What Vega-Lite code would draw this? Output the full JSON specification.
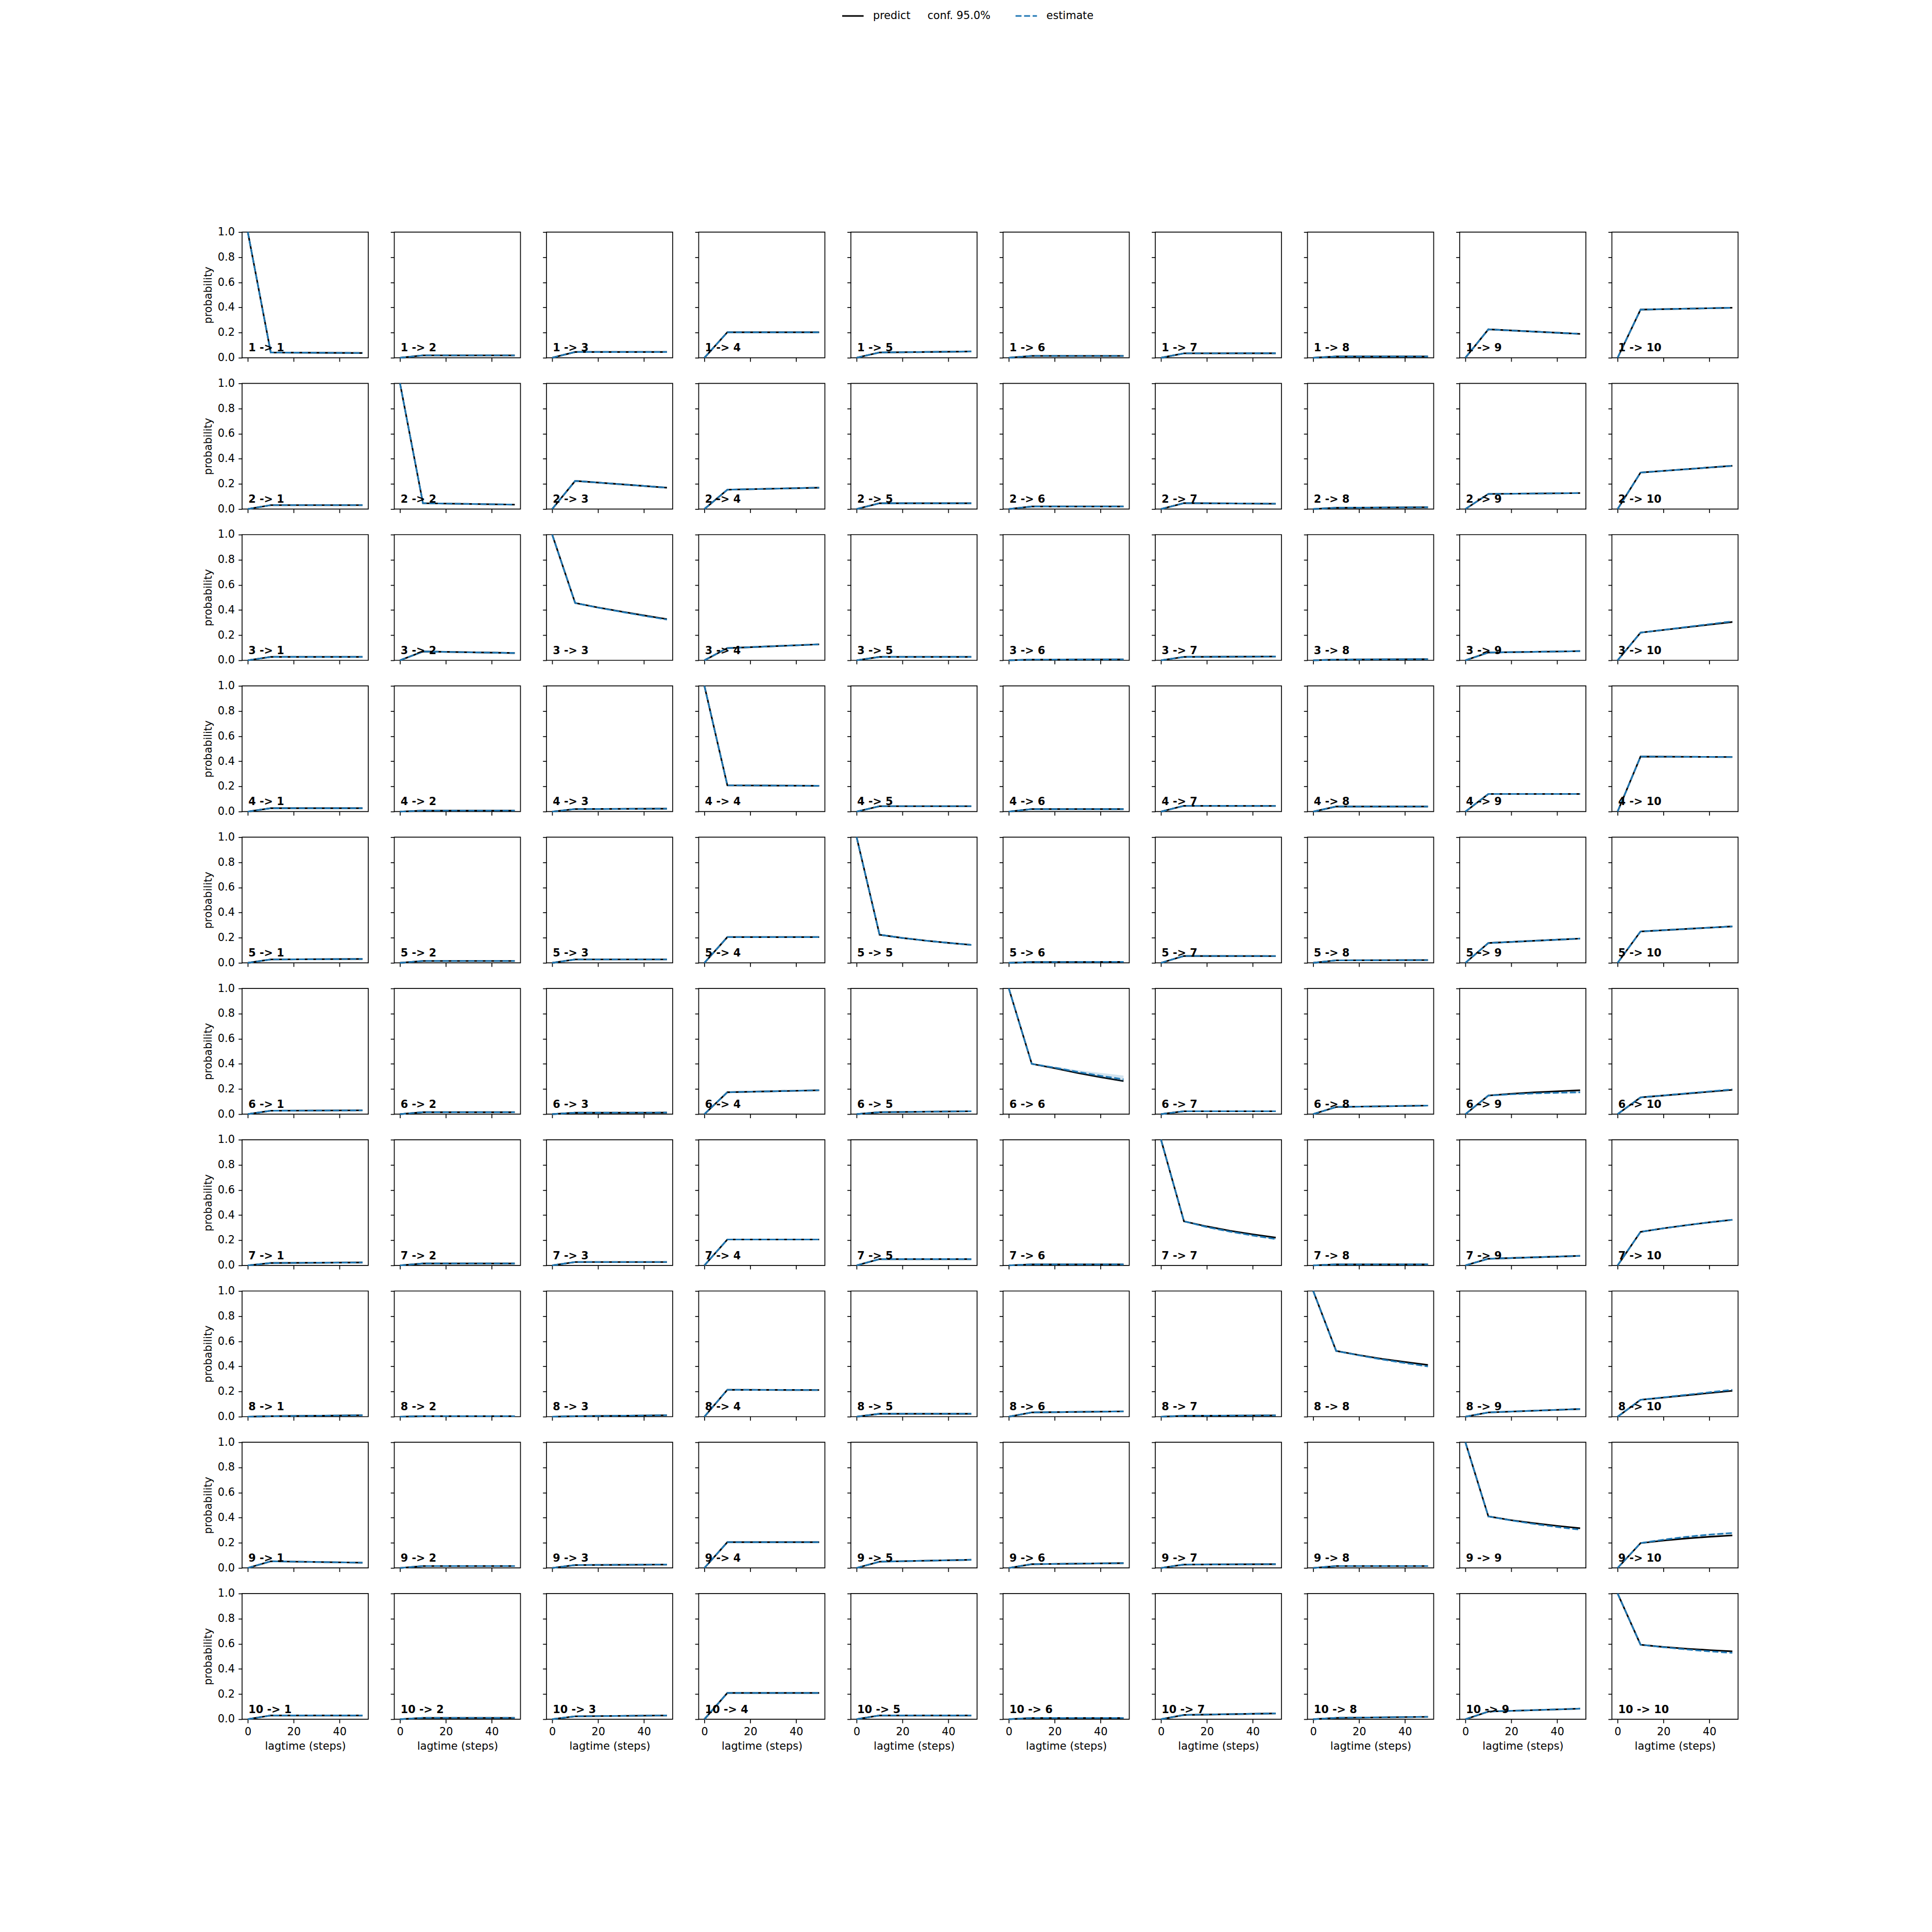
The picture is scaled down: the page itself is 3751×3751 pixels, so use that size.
{
"$schema":"https://vega.github.io/schema/vega-lite/v6.json",
"background":"white",
"padding":{"left":392,"top":7.6,"right":20,"bottom":20},
"datasets":{"ck":[
{"i":1,"j":1,"t":0,"p":1,"e":1,"lab":"1 -> 1"},{"i":1,"j":1,"t":10,"p":0.042,"e":0.042},{"i":1,"j":1,"t":50,"p":0.038,"e":0.038},
{"i":1,"j":2,"t":0,"p":0,"e":0,"lab":"1 -> 2"},{"i":1,"j":2,"t":10,"p":0.019,"e":0.019},{"i":1,"j":2,"t":50,"p":0.019,"e":0.019},
{"i":1,"j":3,"t":0,"p":0,"e":0,"lab":"1 -> 3"},{"i":1,"j":3,"t":10,"p":0.046,"e":0.046},{"i":1,"j":3,"t":50,"p":0.046,"e":0.046},
{"i":1,"j":4,"t":0,"p":0,"e":0,"lab":"1 -> 4"},{"i":1,"j":4,"t":10,"p":0.203,"e":0.203},{"i":1,"j":4,"t":50,"p":0.203,"e":0.203},
{"i":1,"j":5,"t":0,"p":0,"e":0,"lab":"1 -> 5"},{"i":1,"j":5,"t":10,"p":0.042,"e":0.042},{"i":1,"j":5,"t":50,"p":0.05,"e":0.05},
{"i":1,"j":6,"t":0,"p":0,"e":0,"lab":"1 -> 6"},{"i":1,"j":6,"t":10,"p":0.015,"e":0.015},{"i":1,"j":6,"t":50,"p":0.015,"e":0.015},
{"i":1,"j":7,"t":0,"p":0,"e":0,"lab":"1 -> 7"},{"i":1,"j":7,"t":10,"p":0.035,"e":0.035},{"i":1,"j":7,"t":50,"p":0.036,"e":0.036},
{"i":1,"j":8,"t":0,"p":0,"e":0,"lab":"1 -> 8"},{"i":1,"j":8,"t":10,"p":0.01,"e":0.01},{"i":1,"j":8,"t":50,"p":0.01,"e":0.01},
{"i":1,"j":9,"t":0,"p":0,"e":0,"lab":"1 -> 9"},{"i":1,"j":9,"t":10,"p":0.226,"e":0.226},{"i":1,"j":9,"t":50,"p":0.19,"e":0.19},
{"i":1,"j":10,"t":0,"p":0,"e":0,"lab":"1 -> 10"},{"i":1,"j":10,"t":10,"p":0.383,"e":0.383},{"i":1,"j":10,"t":50,"p":0.398,"e":0.398},
{"i":2,"j":1,"t":0,"p":0,"e":0,"lab":"2 -> 1"},{"i":2,"j":1,"t":10,"p":0.031,"e":0.031},{"i":2,"j":1,"t":50,"p":0.031,"e":0.031},
{"i":2,"j":2,"t":0,"p":1,"e":1,"lab":"2 -> 2"},{"i":2,"j":2,"t":10,"p":0.046,"e":0.046},{"i":2,"j":2,"t":50,"p":0.035,"e":0.035},
{"i":2,"j":3,"t":0,"p":0,"e":0,"lab":"2 -> 3"},{"i":2,"j":3,"t":10,"p":0.224,"e":0.224},{"i":2,"j":3,"t":50,"p":0.17,"e":0.17},
{"i":2,"j":4,"t":0,"p":0,"e":0,"lab":"2 -> 4"},{"i":2,"j":4,"t":10,"p":0.154,"e":0.154},{"i":2,"j":4,"t":50,"p":0.17,"e":0.17},
{"i":2,"j":5,"t":0,"p":0,"e":0,"lab":"2 -> 5"},{"i":2,"j":5,"t":10,"p":0.046,"e":0.046},{"i":2,"j":5,"t":50,"p":0.046,"e":0.046},
{"i":2,"j":6,"t":0,"p":0,"e":0,"lab":"2 -> 6"},{"i":2,"j":6,"t":10,"p":0.02,"e":0.02},{"i":2,"j":6,"t":50,"p":0.02,"e":0.02},
{"i":2,"j":7,"t":0,"p":0,"e":0,"lab":"2 -> 7"},{"i":2,"j":7,"t":10,"p":0.047,"e":0.047},{"i":2,"j":7,"t":50,"p":0.042,"e":0.042},
{"i":2,"j":8,"t":0,"p":0,"e":0,"lab":"2 -> 8"},{"i":2,"j":8,"t":10,"p":0.01,"e":0.01},{"i":2,"j":8,"t":50,"p":0.014,"e":0.014},
{"i":2,"j":9,"t":0,"p":0,"e":0,"lab":"2 -> 9"},{"i":2,"j":9,"t":10,"p":0.12,"e":0.12},{"i":2,"j":9,"t":50,"p":0.127,"e":0.127},
{"i":2,"j":10,"t":0,"p":0,"e":0,"lab":"2 -> 10"},{"i":2,"j":10,"t":10,"p":0.29,"e":0.29},{"i":2,"j":10,"t":50,"p":0.344,"e":0.344},
{"i":3,"j":1,"t":0,"p":0,"e":0,"lab":"3 -> 1"},{"i":3,"j":1,"t":10,"p":0.027,"e":0.027},{"i":3,"j":1,"t":50,"p":0.027,"e":0.027},
{"i":3,"j":2,"t":0,"p":0,"e":0,"lab":"3 -> 2"},{"i":3,"j":2,"t":10,"p":0.07,"e":0.07},{"i":3,"j":2,"t":50,"p":0.058,"e":0.058},
{"i":3,"j":3,"t":0,"p":1,"e":1,"lab":"3 -> 3"},{"i":3,"j":3,"t":10,"p":0.456,"e":0.456},{"i":3,"j":3,"t":20,"p":0.42,"e":0.419},{"i":3,"j":3,"t":30,"p":0.388,"e":0.386},{"i":3,"j":3,"t":40,"p":0.357,"e":0.354},{"i":3,"j":3,"t":50,"p":0.328,"e":0.324},
{"i":3,"j":4,"t":0,"p":0,"e":0,"lab":"3 -> 4"},{"i":3,"j":4,"t":10,"p":0.097,"e":0.097},{"i":3,"j":4,"t":50,"p":0.127,"e":0.127},
{"i":3,"j":5,"t":0,"p":0,"e":0,"lab":"3 -> 5"},{"i":3,"j":5,"t":10,"p":0.027,"e":0.027},{"i":3,"j":5,"t":50,"p":0.027,"e":0.027},
{"i":3,"j":6,"t":0,"p":0,"e":0,"lab":"3 -> 6"},{"i":3,"j":6,"t":10,"p":0.006,"e":0.006},{"i":3,"j":6,"t":50,"p":0.007,"e":0.007},
{"i":3,"j":7,"t":0,"p":0,"e":0,"lab":"3 -> 7"},{"i":3,"j":7,"t":10,"p":0.027,"e":0.027},{"i":3,"j":7,"t":50,"p":0.03,"e":0.03},
{"i":3,"j":8,"t":0,"p":0,"e":0,"lab":"3 -> 8"},{"i":3,"j":8,"t":10,"p":0.006,"e":0.006},{"i":3,"j":8,"t":50,"p":0.009,"e":0.009},
{"i":3,"j":9,"t":0,"p":0,"e":0,"lab":"3 -> 9"},{"i":3,"j":9,"t":10,"p":0.062,"e":0.062},{"i":3,"j":9,"t":50,"p":0.073,"e":0.073},
{"i":3,"j":10,"t":0,"p":0,"e":0,"lab":"3 -> 10"},{"i":3,"j":10,"t":10,"p":0.22,"e":0.22},{"i":3,"j":10,"t":50,"p":0.305,"e":0.31},
{"i":4,"j":1,"t":0,"p":0,"e":0,"lab":"4 -> 1"},{"i":4,"j":1,"t":10,"p":0.027,"e":0.027},{"i":4,"j":1,"t":50,"p":0.027,"e":0.027},
{"i":4,"j":2,"t":0,"p":0,"e":0,"lab":"4 -> 2"},{"i":4,"j":2,"t":10,"p":0.008,"e":0.008},{"i":4,"j":2,"t":50,"p":0.008,"e":0.008},
{"i":4,"j":3,"t":0,"p":0,"e":0,"lab":"4 -> 3"},{"i":4,"j":3,"t":10,"p":0.02,"e":0.02},{"i":4,"j":3,"t":50,"p":0.023,"e":0.023},
{"i":4,"j":4,"t":0,"p":1,"e":1,"lab":"4 -> 4"},{"i":4,"j":4,"t":10,"p":0.209,"e":0.209},{"i":4,"j":4,"t":50,"p":0.205,"e":0.205},
{"i":4,"j":5,"t":0,"p":0,"e":0,"lab":"4 -> 5"},{"i":4,"j":5,"t":10,"p":0.043,"e":0.043},{"i":4,"j":5,"t":50,"p":0.043,"e":0.043},
{"i":4,"j":6,"t":0,"p":0,"e":0,"lab":"4 -> 6"},{"i":4,"j":6,"t":10,"p":0.02,"e":0.02},{"i":4,"j":6,"t":50,"p":0.02,"e":0.02},
{"i":4,"j":7,"t":0,"p":0,"e":0,"lab":"4 -> 7"},{"i":4,"j":7,"t":10,"p":0.046,"e":0.046},{"i":4,"j":7,"t":50,"p":0.045,"e":0.045},
{"i":4,"j":8,"t":0,"p":0,"e":0,"lab":"4 -> 8"},{"i":4,"j":8,"t":10,"p":0.04,"e":0.04},{"i":4,"j":8,"t":50,"p":0.04,"e":0.04},
{"i":4,"j":9,"t":0,"p":0,"e":0,"lab":"4 -> 9"},{"i":4,"j":9,"t":10,"p":0.14,"e":0.14},{"i":4,"j":9,"t":50,"p":0.14,"e":0.14},
{"i":4,"j":10,"t":0,"p":0,"e":0,"lab":"4 -> 10"},{"i":4,"j":10,"t":10,"p":0.438,"e":0.438},{"i":4,"j":10,"t":50,"p":0.434,"e":0.434},
{"i":5,"j":1,"t":0,"p":0,"e":0,"lab":"5 -> 1"},{"i":5,"j":1,"t":10,"p":0.027,"e":0.027},{"i":5,"j":1,"t":50,"p":0.031,"e":0.031},
{"i":5,"j":2,"t":0,"p":0,"e":0,"lab":"5 -> 2"},{"i":5,"j":2,"t":10,"p":0.015,"e":0.015},{"i":5,"j":2,"t":50,"p":0.015,"e":0.015},
{"i":5,"j":3,"t":0,"p":0,"e":0,"lab":"5 -> 3"},{"i":5,"j":3,"t":10,"p":0.027,"e":0.027},{"i":5,"j":3,"t":50,"p":0.027,"e":0.027},
{"i":5,"j":4,"t":0,"p":0,"e":0,"lab":"5 -> 4"},{"i":5,"j":4,"t":10,"p":0.205,"e":0.205},{"i":5,"j":4,"t":50,"p":0.205,"e":0.205},
{"i":5,"j":5,"t":0,"p":1,"e":1,"lab":"5 -> 5"},{"i":5,"j":5,"t":10,"p":0.224,"e":0.224},{"i":5,"j":5,"t":20,"p":0.198,"e":0.198},{"i":5,"j":5,"t":30,"p":0.177,"e":0.177},{"i":5,"j":5,"t":40,"p":0.159,"e":0.159},{"i":5,"j":5,"t":50,"p":0.143,"e":0.143},
{"i":5,"j":6,"t":0,"p":0,"e":0,"lab":"5 -> 6"},{"i":5,"j":6,"t":10,"p":0.006,"e":0.006},{"i":5,"j":6,"t":50,"p":0.008,"e":0.008},
{"i":5,"j":7,"t":0,"p":0,"e":0,"lab":"5 -> 7"},{"i":5,"j":7,"t":10,"p":0.055,"e":0.055},{"i":5,"j":7,"t":50,"p":0.054,"e":0.054},
{"i":5,"j":8,"t":0,"p":0,"e":0,"lab":"5 -> 8"},{"i":5,"j":8,"t":10,"p":0.02,"e":0.02},{"i":5,"j":8,"t":50,"p":0.022,"e":0.022},
{"i":5,"j":9,"t":0,"p":0,"e":0,"lab":"5 -> 9"},{"i":5,"j":9,"t":10,"p":0.158,"e":0.158},{"i":5,"j":9,"t":50,"p":0.193,"e":0.193},
{"i":5,"j":10,"t":0,"p":0,"e":0,"lab":"5 -> 10"},{"i":5,"j":10,"t":10,"p":0.25,"e":0.25},{"i":5,"j":10,"t":50,"p":0.29,"e":0.29},
{"i":6,"j":1,"t":0,"p":0,"e":0,"lab":"6 -> 1"},{"i":6,"j":1,"t":10,"p":0.027,"e":0.027},{"i":6,"j":1,"t":50,"p":0.03,"e":0.03},
{"i":6,"j":2,"t":0,"p":0,"e":0,"lab":"6 -> 2"},{"i":6,"j":2,"t":10,"p":0.015,"e":0.015},{"i":6,"j":2,"t":50,"p":0.015,"e":0.015},
{"i":6,"j":3,"t":0,"p":0,"e":0,"lab":"6 -> 3"},{"i":6,"j":3,"t":10,"p":0.011,"e":0.011},{"i":6,"j":3,"t":50,"p":0.012,"e":0.012},
{"i":6,"j":4,"t":0,"p":0,"e":0,"lab":"6 -> 4"},{"i":6,"j":4,"t":10,"p":0.174,"e":0.174},{"i":6,"j":4,"t":50,"p":0.19,"e":0.19},
{"i":6,"j":5,"t":0,"p":0,"e":0,"lab":"6 -> 5"},{"i":6,"j":5,"t":10,"p":0.015,"e":0.015},{"i":6,"j":5,"t":50,"p":0.023,"e":0.023},
{"i":6,"j":6,"t":0,"p":1,"e":1,"lo":1,"hi":1,"lab":"6 -> 6"},{"i":6,"j":6,"t":10,"p":0.4,"e":0.4,"lo":0.398,"hi":0.403},{"i":6,"j":6,"t":20,"p":0.365,"e":0.37,"lo":0.362,"hi":0.378},{"i":6,"j":6,"t":30,"p":0.327,"e":0.336,"lo":0.325,"hi":0.35},{"i":6,"j":6,"t":40,"p":0.294,"e":0.305,"lo":0.29,"hi":0.328},{"i":6,"j":6,"t":50,"p":0.263,"e":0.277,"lo":0.258,"hi":0.307},
{"i":6,"j":7,"t":0,"p":0,"e":0,"lab":"6 -> 7"},{"i":6,"j":7,"t":10,"p":0.023,"e":0.023},{"i":6,"j":7,"t":50,"p":0.023,"e":0.023},
{"i":6,"j":8,"t":0,"p":0,"e":0,"lab":"6 -> 8"},{"i":6,"j":8,"t":10,"p":0.057,"e":0.057},{"i":6,"j":8,"t":50,"p":0.068,"e":0.068},
{"i":6,"j":9,"t":0,"p":0,"e":0,"lo":0,"hi":0,"lab":"6 -> 9"},{"i":6,"j":9,"t":10,"p":0.148,"e":0.148,"lo":0.147,"hi":0.15},{"i":6,"j":9,"t":20,"p":0.162,"e":0.158,"lo":0.154,"hi":0.163},{"i":6,"j":9,"t":30,"p":0.173,"e":0.165,"lo":0.16,"hi":0.171},{"i":6,"j":9,"t":40,"p":0.182,"e":0.17,"lo":0.164,"hi":0.177},{"i":6,"j":9,"t":50,"p":0.19,"e":0.174,"lo":0.167,"hi":0.182},
{"i":6,"j":10,"t":0,"p":0,"e":0,"lab":"6 -> 10"},{"i":6,"j":10,"t":10,"p":0.133,"e":0.133},{"i":6,"j":10,"t":50,"p":0.193,"e":0.197},
{"i":7,"j":1,"t":0,"p":0,"e":0,"lab":"7 -> 1"},{"i":7,"j":1,"t":10,"p":0.019,"e":0.019},{"i":7,"j":1,"t":50,"p":0.023,"e":0.023},
{"i":7,"j":2,"t":0,"p":0,"e":0,"lab":"7 -> 2"},{"i":7,"j":2,"t":10,"p":0.015,"e":0.015},{"i":7,"j":2,"t":50,"p":0.015,"e":0.015},
{"i":7,"j":3,"t":0,"p":0,"e":0,"lab":"7 -> 3"},{"i":7,"j":3,"t":10,"p":0.027,"e":0.027},{"i":7,"j":3,"t":50,"p":0.027,"e":0.027},
{"i":7,"j":4,"t":0,"p":0,"e":0,"lab":"7 -> 4"},{"i":7,"j":4,"t":10,"p":0.206,"e":0.206},{"i":7,"j":4,"t":50,"p":0.206,"e":0.206},
{"i":7,"j":5,"t":0,"p":0,"e":0,"lab":"7 -> 5"},{"i":7,"j":5,"t":10,"p":0.05,"e":0.05},{"i":7,"j":5,"t":50,"p":0.05,"e":0.05},
{"i":7,"j":6,"t":0,"p":0,"e":0,"lab":"7 -> 6"},{"i":7,"j":6,"t":10,"p":0.008,"e":0.008},{"i":7,"j":6,"t":50,"p":0.008,"e":0.008},
{"i":7,"j":7,"t":0,"p":1,"e":1,"lo":1,"hi":1,"lab":"7 -> 7"},{"i":7,"j":7,"t":10,"p":0.351,"e":0.351,"lo":0.35,"hi":0.352},{"i":7,"j":7,"t":20,"p":0.31,"e":0.305,"lo":0.3,"hi":0.31},{"i":7,"j":7,"t":30,"p":0.276,"e":0.269,"lo":0.262,"hi":0.276},{"i":7,"j":7,"t":40,"p":0.247,"e":0.238,"lo":0.23,"hi":0.246},{"i":7,"j":7,"t":50,"p":0.221,"e":0.21,"lo":0.203,"hi":0.218},
{"i":7,"j":8,"t":0,"p":0,"e":0,"lab":"7 -> 8"},{"i":7,"j":8,"t":10,"p":0.008,"e":0.008},{"i":7,"j":8,"t":50,"p":0.008,"e":0.008},
{"i":7,"j":9,"t":0,"p":0,"e":0,"lab":"7 -> 9"},{"i":7,"j":9,"t":10,"p":0.053,"e":0.053},{"i":7,"j":9,"t":50,"p":0.076,"e":0.076},
{"i":7,"j":10,"t":0,"p":0,"e":0,"lab":"7 -> 10"},{"i":7,"j":10,"t":10,"p":0.267,"e":0.267},{"i":7,"j":10,"t":20,"p":0.295,"e":0.295},{"i":7,"j":10,"t":30,"p":0.32,"e":0.32},{"i":7,"j":10,"t":40,"p":0.343,"e":0.343},{"i":7,"j":10,"t":50,"p":0.363,"e":0.363},
{"i":8,"j":1,"t":0,"p":0,"e":0,"lab":"8 -> 1"},{"i":8,"j":1,"t":10,"p":0.004,"e":0.004},{"i":8,"j":1,"t":50,"p":0.011,"e":0.011},
{"i":8,"j":2,"t":0,"p":0,"e":0,"lab":"8 -> 2"},{"i":8,"j":2,"t":10,"p":0.004,"e":0.004},{"i":8,"j":2,"t":50,"p":0.004,"e":0.004},
{"i":8,"j":3,"t":0,"p":0,"e":0,"lab":"8 -> 3"},{"i":8,"j":3,"t":10,"p":0.004,"e":0.004},{"i":8,"j":3,"t":50,"p":0.011,"e":0.011},
{"i":8,"j":4,"t":0,"p":0,"e":0,"lab":"8 -> 4"},{"i":8,"j":4,"t":10,"p":0.214,"e":0.214},{"i":8,"j":4,"t":50,"p":0.212,"e":0.212},
{"i":8,"j":5,"t":0,"p":0,"e":0,"lab":"8 -> 5"},{"i":8,"j":5,"t":10,"p":0.023,"e":0.023},{"i":8,"j":5,"t":50,"p":0.023,"e":0.023},
{"i":8,"j":6,"t":0,"p":0,"e":0,"lab":"8 -> 6"},{"i":8,"j":6,"t":10,"p":0.034,"e":0.034},{"i":8,"j":6,"t":50,"p":0.042,"e":0.042},
{"i":8,"j":7,"t":0,"p":0,"e":0,"lab":"8 -> 7"},{"i":8,"j":7,"t":10,"p":0.007,"e":0.007},{"i":8,"j":7,"t":50,"p":0.01,"e":0.01},
{"i":8,"j":8,"t":0,"p":1,"e":1,"lo":1,"hi":1,"lab":"8 -> 8"},{"i":8,"j":8,"t":10,"p":0.523,"e":0.523,"lo":0.522,"hi":0.524},{"i":8,"j":8,"t":20,"p":0.49,"e":0.488,"lo":0.483,"hi":0.493},{"i":8,"j":8,"t":30,"p":0.46,"e":0.455,"lo":0.449,"hi":0.462},{"i":8,"j":8,"t":40,"p":0.435,"e":0.427,"lo":0.42,"hi":0.434},{"i":8,"j":8,"t":50,"p":0.412,"e":0.4,"lo":0.393,"hi":0.408},
{"i":8,"j":9,"t":0,"p":0,"e":0,"lab":"8 -> 9"},{"i":8,"j":9,"t":10,"p":0.034,"e":0.034},{"i":8,"j":9,"t":50,"p":0.061,"e":0.061},
{"i":8,"j":10,"t":0,"p":0,"e":0,"lab":"8 -> 10"},{"i":8,"j":10,"t":10,"p":0.134,"e":0.134},{"i":8,"j":10,"t":50,"p":0.206,"e":0.214},
{"i":9,"j":1,"t":0,"p":0,"e":0,"lab":"9 -> 1"},{"i":9,"j":1,"t":10,"p":0.053,"e":0.053},{"i":9,"j":1,"t":50,"p":0.042,"e":0.042},
{"i":9,"j":2,"t":0,"p":0,"e":0,"lab":"9 -> 2"},{"i":9,"j":2,"t":10,"p":0.015,"e":0.015},{"i":9,"j":2,"t":50,"p":0.015,"e":0.015},
{"i":9,"j":3,"t":0,"p":0,"e":0,"lab":"9 -> 3"},{"i":9,"j":3,"t":10,"p":0.023,"e":0.023},{"i":9,"j":3,"t":50,"p":0.027,"e":0.027},
{"i":9,"j":4,"t":0,"p":0,"e":0,"lab":"9 -> 4"},{"i":9,"j":4,"t":10,"p":0.205,"e":0.205},{"i":9,"j":4,"t":50,"p":0.205,"e":0.205},
{"i":9,"j":5,"t":0,"p":0,"e":0,"lab":"9 -> 5"},{"i":9,"j":5,"t":10,"p":0.05,"e":0.05},{"i":9,"j":5,"t":50,"p":0.065,"e":0.065},
{"i":9,"j":6,"t":0,"p":0,"e":0,"lab":"9 -> 6"},{"i":9,"j":6,"t":10,"p":0.03,"e":0.03},{"i":9,"j":6,"t":50,"p":0.038,"e":0.038},
{"i":9,"j":7,"t":0,"p":0,"e":0,"lab":"9 -> 7"},{"i":9,"j":7,"t":10,"p":0.027,"e":0.027},{"i":9,"j":7,"t":50,"p":0.03,"e":0.03},
{"i":9,"j":8,"t":0,"p":0,"e":0,"lab":"9 -> 8"},{"i":9,"j":8,"t":10,"p":0.015,"e":0.015},{"i":9,"j":8,"t":50,"p":0.015,"e":0.015},
{"i":9,"j":9,"t":0,"p":1,"e":1,"lab":"9 -> 9"},{"i":9,"j":9,"t":10,"p":0.41,"e":0.41},{"i":9,"j":9,"t":20,"p":0.38,"e":0.378},{"i":9,"j":9,"t":30,"p":0.356,"e":0.35},{"i":9,"j":9,"t":40,"p":0.335,"e":0.326},{"i":9,"j":9,"t":50,"p":0.316,"e":0.304},
{"i":9,"j":10,"t":0,"p":0,"e":0,"lo":0,"hi":0,"lab":"9 -> 10"},{"i":9,"j":10,"t":10,"p":0.198,"e":0.198,"lo":0.197,"hi":0.2},{"i":9,"j":10,"t":20,"p":0.218,"e":0.225,"lo":0.22,"hi":0.23},{"i":9,"j":10,"t":30,"p":0.235,"e":0.248,"lo":0.242,"hi":0.254},{"i":9,"j":10,"t":40,"p":0.248,"e":0.265,"lo":0.258,"hi":0.272},{"i":9,"j":10,"t":50,"p":0.259,"e":0.278,"lo":0.27,"hi":0.286},
{"i":10,"j":1,"t":0,"p":0,"e":0,"lab":"10 -> 1"},{"i":10,"j":1,"t":10,"p":0.03,"e":0.03},{"i":10,"j":1,"t":50,"p":0.03,"e":0.03},
{"i":10,"j":2,"t":0,"p":0,"e":0,"lab":"10 -> 2"},{"i":10,"j":2,"t":10,"p":0.011,"e":0.011},{"i":10,"j":2,"t":50,"p":0.011,"e":0.011},
{"i":10,"j":3,"t":0,"p":0,"e":0,"lab":"10 -> 3"},{"i":10,"j":3,"t":10,"p":0.023,"e":0.023},{"i":10,"j":3,"t":50,"p":0.03,"e":0.03},
{"i":10,"j":4,"t":0,"p":0,"e":0,"lab":"10 -> 4"},{"i":10,"j":4,"t":10,"p":0.209,"e":0.209},{"i":10,"j":4,"t":50,"p":0.209,"e":0.209},
{"i":10,"j":5,"t":0,"p":0,"e":0,"lab":"10 -> 5"},{"i":10,"j":5,"t":10,"p":0.03,"e":0.03},{"i":10,"j":5,"t":50,"p":0.03,"e":0.03},
{"i":10,"j":6,"t":0,"p":0,"e":0,"lab":"10 -> 6"},{"i":10,"j":6,"t":10,"p":0.01,"e":0.01},{"i":10,"j":6,"t":50,"p":0.01,"e":0.01},
{"i":10,"j":7,"t":0,"p":0,"e":0,"lab":"10 -> 7"},{"i":10,"j":7,"t":10,"p":0.034,"e":0.034},{"i":10,"j":7,"t":50,"p":0.046,"e":0.046},
{"i":10,"j":8,"t":0,"p":0,"e":0,"lab":"10 -> 8"},{"i":10,"j":8,"t":10,"p":0.011,"e":0.011},{"i":10,"j":8,"t":50,"p":0.019,"e":0.019},
{"i":10,"j":9,"t":0,"p":0,"e":0,"lab":"10 -> 9"},{"i":10,"j":9,"t":10,"p":0.061,"e":0.061},{"i":10,"j":9,"t":50,"p":0.084,"e":0.084},
{"i":10,"j":10,"t":0,"p":1,"e":1,"lab":"10 -> 10"},{"i":10,"j":10,"t":10,"p":0.593,"e":0.593},{"i":10,"j":10,"t":20,"p":0.575,"e":0.573},{"i":10,"j":10,"t":30,"p":0.561,"e":0.555},{"i":10,"j":10,"t":40,"p":0.55,"e":0.54},{"i":10,"j":10,"t":50,"p":0.54,"e":0.528}
]},
"data":{"name":"ck"},
"columns":2,
"spacing":{"row":49.7,"column":50.5},
"bounds":"flush",
"resolve":{"scale":{"color":"shared"},"legend":{"color":"shared"}},
"concat":[
{"transform":[{"filter":"datum.i==1&&datum.j==1"}],"width":245,"height":244,"encoding":{"x":{"field":"t","type":"quantitative","scale":{"domain":[-2.5,52.5],"nice":false},"axis":{"labels":false,"title":null}}},"layer":[
{"mark":{"type":"line","strokeWidth":3.125},"encoding":{"y":{"field":"p","type":"quantitative","scale":{"domain":[0,1]},"axis":{"format":".1f","title":"probability"}},"color":{"datum":"predict\u00a0\u00a0\u00a0\u00a0\u00a0conf. 95.0%","scale":{"domain":["predict\u00a0\u00a0\u00a0\u00a0\u00a0conf. 95.0%","estimate"],"range":["black","#1f77b4"]},"legend":{"orient":"none","legendX":1163.4,"legendY":-442.4,"direction":"horizontal","title":null,"symbolType":"stroke","symbolSize":1731,"symbolStrokeWidth":3.125,"labelFontSize":20.8,"labelColor":"black","labelLimit":0,"labelOffset":16.6,"columnPadding":41.6,"padding":0,"encode":{"symbols":{"update":{"strokeDash":{"signal":"datum.value === 'estimate' ? [11.6, 5] : [1, 0]"}}}}}}}},
{"mark":{"type":"line","strokeWidth":3.125,"strokeDash":[11.6,5]},"encoding":{"y":{"field":"e","type":"quantitative"},"color":{"datum":"estimate"}}},
{"mark":{"type":"area","color":"#1f77b4","opacity":0.2},"encoding":{"y":{"field":"lo","type":"quantitative"},"y2":{"field":"hi"}}},
{"transform":[{"filter":"datum.t==0"}],"mark":{"type":"text","align":"left","baseline":"alphabetic","fontWeight":"bold","fontSize":20.8},"encoding":{"x":{"datum":0.25},"y":{"datum":0.05},"text":{"field":"lab"}}}]},
{"transform":[{"filter":"datum.i==1&&datum.j>1"}],"facet":{"column":{"field":"j","type":"ordinal","title":null,"header":{"labels":false}}},"spacing":50.5,"bounds":"flush","resolve":{"axis":{"y":"independent"}},"spec":{"width":245,"height":244,"encoding":{"x":{"field":"t","type":"quantitative","scale":{"domain":[-2.5,52.5],"nice":false},"axis":{"labels":false,"title":null}}},"layer":[
{"mark":{"type":"line","strokeWidth":3.125},"encoding":{"y":{"field":"p","type":"quantitative","scale":{"domain":[0,1]},"axis":{"labels":false,"title":null}},"color":{"datum":"predict\u00a0\u00a0\u00a0\u00a0\u00a0conf. 95.0%"}}},
{"mark":{"type":"line","strokeWidth":3.125,"strokeDash":[11.6,5]},"encoding":{"y":{"field":"e","type":"quantitative"},"color":{"datum":"estimate"}}},
{"mark":{"type":"area","color":"#1f77b4","opacity":0.2},"encoding":{"y":{"field":"lo","type":"quantitative"},"y2":{"field":"hi"}}},
{"transform":[{"filter":"datum.t==0"}],"mark":{"type":"text","align":"left","baseline":"alphabetic","fontWeight":"bold","fontSize":20.8},"encoding":{"x":{"datum":0.25},"y":{"datum":0.05},"text":{"field":"lab"}}}]}},
{"transform":[{"filter":"datum.i==2&&datum.j==1"}],"width":245,"height":244,"encoding":{"x":{"field":"t","type":"quantitative","scale":{"domain":[-2.5,52.5],"nice":false},"axis":{"labels":false,"title":null}}},"layer":[
{"mark":{"type":"line","strokeWidth":3.125},"encoding":{"y":{"field":"p","type":"quantitative","scale":{"domain":[0,1]},"axis":{"format":".1f","title":"probability"}},"color":{"datum":"predict\u00a0\u00a0\u00a0\u00a0\u00a0conf. 95.0%"}}},
{"mark":{"type":"line","strokeWidth":3.125,"strokeDash":[11.6,5]},"encoding":{"y":{"field":"e","type":"quantitative"},"color":{"datum":"estimate"}}},
{"mark":{"type":"area","color":"#1f77b4","opacity":0.2},"encoding":{"y":{"field":"lo","type":"quantitative"},"y2":{"field":"hi"}}},
{"transform":[{"filter":"datum.t==0"}],"mark":{"type":"text","align":"left","baseline":"alphabetic","fontWeight":"bold","fontSize":20.8},"encoding":{"x":{"datum":0.25},"y":{"datum":0.05},"text":{"field":"lab"}}}]},
{"transform":[{"filter":"datum.i==2&&datum.j>1"}],"facet":{"column":{"field":"j","type":"ordinal","title":null,"header":{"labels":false}}},"spacing":50.5,"bounds":"flush","resolve":{"axis":{"y":"independent"}},"spec":{"width":245,"height":244,"encoding":{"x":{"field":"t","type":"quantitative","scale":{"domain":[-2.5,52.5],"nice":false},"axis":{"labels":false,"title":null}}},"layer":[
{"mark":{"type":"line","strokeWidth":3.125},"encoding":{"y":{"field":"p","type":"quantitative","scale":{"domain":[0,1]},"axis":{"labels":false,"title":null}},"color":{"datum":"predict\u00a0\u00a0\u00a0\u00a0\u00a0conf. 95.0%"}}},
{"mark":{"type":"line","strokeWidth":3.125,"strokeDash":[11.6,5]},"encoding":{"y":{"field":"e","type":"quantitative"},"color":{"datum":"estimate"}}},
{"mark":{"type":"area","color":"#1f77b4","opacity":0.2},"encoding":{"y":{"field":"lo","type":"quantitative"},"y2":{"field":"hi"}}},
{"transform":[{"filter":"datum.t==0"}],"mark":{"type":"text","align":"left","baseline":"alphabetic","fontWeight":"bold","fontSize":20.8},"encoding":{"x":{"datum":0.25},"y":{"datum":0.05},"text":{"field":"lab"}}}]}},
{"transform":[{"filter":"datum.i==3&&datum.j==1"}],"width":245,"height":244,"encoding":{"x":{"field":"t","type":"quantitative","scale":{"domain":[-2.5,52.5],"nice":false},"axis":{"labels":false,"title":null}}},"layer":[
{"mark":{"type":"line","strokeWidth":3.125},"encoding":{"y":{"field":"p","type":"quantitative","scale":{"domain":[0,1]},"axis":{"format":".1f","title":"probability"}},"color":{"datum":"predict\u00a0\u00a0\u00a0\u00a0\u00a0conf. 95.0%"}}},
{"mark":{"type":"line","strokeWidth":3.125,"strokeDash":[11.6,5]},"encoding":{"y":{"field":"e","type":"quantitative"},"color":{"datum":"estimate"}}},
{"mark":{"type":"area","color":"#1f77b4","opacity":0.2},"encoding":{"y":{"field":"lo","type":"quantitative"},"y2":{"field":"hi"}}},
{"transform":[{"filter":"datum.t==0"}],"mark":{"type":"text","align":"left","baseline":"alphabetic","fontWeight":"bold","fontSize":20.8},"encoding":{"x":{"datum":0.25},"y":{"datum":0.05},"text":{"field":"lab"}}}]},
{"transform":[{"filter":"datum.i==3&&datum.j>1"}],"facet":{"column":{"field":"j","type":"ordinal","title":null,"header":{"labels":false}}},"spacing":50.5,"bounds":"flush","resolve":{"axis":{"y":"independent"}},"spec":{"width":245,"height":244,"encoding":{"x":{"field":"t","type":"quantitative","scale":{"domain":[-2.5,52.5],"nice":false},"axis":{"labels":false,"title":null}}},"layer":[
{"mark":{"type":"line","strokeWidth":3.125},"encoding":{"y":{"field":"p","type":"quantitative","scale":{"domain":[0,1]},"axis":{"labels":false,"title":null}},"color":{"datum":"predict\u00a0\u00a0\u00a0\u00a0\u00a0conf. 95.0%"}}},
{"mark":{"type":"line","strokeWidth":3.125,"strokeDash":[11.6,5]},"encoding":{"y":{"field":"e","type":"quantitative"},"color":{"datum":"estimate"}}},
{"mark":{"type":"area","color":"#1f77b4","opacity":0.2},"encoding":{"y":{"field":"lo","type":"quantitative"},"y2":{"field":"hi"}}},
{"transform":[{"filter":"datum.t==0"}],"mark":{"type":"text","align":"left","baseline":"alphabetic","fontWeight":"bold","fontSize":20.8},"encoding":{"x":{"datum":0.25},"y":{"datum":0.05},"text":{"field":"lab"}}}]}},
{"transform":[{"filter":"datum.i==4&&datum.j==1"}],"width":245,"height":244,"encoding":{"x":{"field":"t","type":"quantitative","scale":{"domain":[-2.5,52.5],"nice":false},"axis":{"labels":false,"title":null}}},"layer":[
{"mark":{"type":"line","strokeWidth":3.125},"encoding":{"y":{"field":"p","type":"quantitative","scale":{"domain":[0,1]},"axis":{"format":".1f","title":"probability"}},"color":{"datum":"predict\u00a0\u00a0\u00a0\u00a0\u00a0conf. 95.0%"}}},
{"mark":{"type":"line","strokeWidth":3.125,"strokeDash":[11.6,5]},"encoding":{"y":{"field":"e","type":"quantitative"},"color":{"datum":"estimate"}}},
{"mark":{"type":"area","color":"#1f77b4","opacity":0.2},"encoding":{"y":{"field":"lo","type":"quantitative"},"y2":{"field":"hi"}}},
{"transform":[{"filter":"datum.t==0"}],"mark":{"type":"text","align":"left","baseline":"alphabetic","fontWeight":"bold","fontSize":20.8},"encoding":{"x":{"datum":0.25},"y":{"datum":0.05},"text":{"field":"lab"}}}]},
{"transform":[{"filter":"datum.i==4&&datum.j>1"}],"facet":{"column":{"field":"j","type":"ordinal","title":null,"header":{"labels":false}}},"spacing":50.5,"bounds":"flush","resolve":{"axis":{"y":"independent"}},"spec":{"width":245,"height":244,"encoding":{"x":{"field":"t","type":"quantitative","scale":{"domain":[-2.5,52.5],"nice":false},"axis":{"labels":false,"title":null}}},"layer":[
{"mark":{"type":"line","strokeWidth":3.125},"encoding":{"y":{"field":"p","type":"quantitative","scale":{"domain":[0,1]},"axis":{"labels":false,"title":null}},"color":{"datum":"predict\u00a0\u00a0\u00a0\u00a0\u00a0conf. 95.0%"}}},
{"mark":{"type":"line","strokeWidth":3.125,"strokeDash":[11.6,5]},"encoding":{"y":{"field":"e","type":"quantitative"},"color":{"datum":"estimate"}}},
{"mark":{"type":"area","color":"#1f77b4","opacity":0.2},"encoding":{"y":{"field":"lo","type":"quantitative"},"y2":{"field":"hi"}}},
{"transform":[{"filter":"datum.t==0"}],"mark":{"type":"text","align":"left","baseline":"alphabetic","fontWeight":"bold","fontSize":20.8},"encoding":{"x":{"datum":0.25},"y":{"datum":0.05},"text":{"field":"lab"}}}]}},
{"transform":[{"filter":"datum.i==5&&datum.j==1"}],"width":245,"height":244,"encoding":{"x":{"field":"t","type":"quantitative","scale":{"domain":[-2.5,52.5],"nice":false},"axis":{"labels":false,"title":null}}},"layer":[
{"mark":{"type":"line","strokeWidth":3.125},"encoding":{"y":{"field":"p","type":"quantitative","scale":{"domain":[0,1]},"axis":{"format":".1f","title":"probability"}},"color":{"datum":"predict\u00a0\u00a0\u00a0\u00a0\u00a0conf. 95.0%"}}},
{"mark":{"type":"line","strokeWidth":3.125,"strokeDash":[11.6,5]},"encoding":{"y":{"field":"e","type":"quantitative"},"color":{"datum":"estimate"}}},
{"mark":{"type":"area","color":"#1f77b4","opacity":0.2},"encoding":{"y":{"field":"lo","type":"quantitative"},"y2":{"field":"hi"}}},
{"transform":[{"filter":"datum.t==0"}],"mark":{"type":"text","align":"left","baseline":"alphabetic","fontWeight":"bold","fontSize":20.8},"encoding":{"x":{"datum":0.25},"y":{"datum":0.05},"text":{"field":"lab"}}}]},
{"transform":[{"filter":"datum.i==5&&datum.j>1"}],"facet":{"column":{"field":"j","type":"ordinal","title":null,"header":{"labels":false}}},"spacing":50.5,"bounds":"flush","resolve":{"axis":{"y":"independent"}},"spec":{"width":245,"height":244,"encoding":{"x":{"field":"t","type":"quantitative","scale":{"domain":[-2.5,52.5],"nice":false},"axis":{"labels":false,"title":null}}},"layer":[
{"mark":{"type":"line","strokeWidth":3.125},"encoding":{"y":{"field":"p","type":"quantitative","scale":{"domain":[0,1]},"axis":{"labels":false,"title":null}},"color":{"datum":"predict\u00a0\u00a0\u00a0\u00a0\u00a0conf. 95.0%"}}},
{"mark":{"type":"line","strokeWidth":3.125,"strokeDash":[11.6,5]},"encoding":{"y":{"field":"e","type":"quantitative"},"color":{"datum":"estimate"}}},
{"mark":{"type":"area","color":"#1f77b4","opacity":0.2},"encoding":{"y":{"field":"lo","type":"quantitative"},"y2":{"field":"hi"}}},
{"transform":[{"filter":"datum.t==0"}],"mark":{"type":"text","align":"left","baseline":"alphabetic","fontWeight":"bold","fontSize":20.8},"encoding":{"x":{"datum":0.25},"y":{"datum":0.05},"text":{"field":"lab"}}}]}},
{"transform":[{"filter":"datum.i==6&&datum.j==1"}],"width":245,"height":244,"encoding":{"x":{"field":"t","type":"quantitative","scale":{"domain":[-2.5,52.5],"nice":false},"axis":{"labels":false,"title":null}}},"layer":[
{"mark":{"type":"line","strokeWidth":3.125},"encoding":{"y":{"field":"p","type":"quantitative","scale":{"domain":[0,1]},"axis":{"format":".1f","title":"probability"}},"color":{"datum":"predict\u00a0\u00a0\u00a0\u00a0\u00a0conf. 95.0%"}}},
{"mark":{"type":"line","strokeWidth":3.125,"strokeDash":[11.6,5]},"encoding":{"y":{"field":"e","type":"quantitative"},"color":{"datum":"estimate"}}},
{"mark":{"type":"area","color":"#1f77b4","opacity":0.2},"encoding":{"y":{"field":"lo","type":"quantitative"},"y2":{"field":"hi"}}},
{"transform":[{"filter":"datum.t==0"}],"mark":{"type":"text","align":"left","baseline":"alphabetic","fontWeight":"bold","fontSize":20.8},"encoding":{"x":{"datum":0.25},"y":{"datum":0.05},"text":{"field":"lab"}}}]},
{"transform":[{"filter":"datum.i==6&&datum.j>1"}],"facet":{"column":{"field":"j","type":"ordinal","title":null,"header":{"labels":false}}},"spacing":50.5,"bounds":"flush","resolve":{"axis":{"y":"independent"}},"spec":{"width":245,"height":244,"encoding":{"x":{"field":"t","type":"quantitative","scale":{"domain":[-2.5,52.5],"nice":false},"axis":{"labels":false,"title":null}}},"layer":[
{"mark":{"type":"line","strokeWidth":3.125},"encoding":{"y":{"field":"p","type":"quantitative","scale":{"domain":[0,1]},"axis":{"labels":false,"title":null}},"color":{"datum":"predict\u00a0\u00a0\u00a0\u00a0\u00a0conf. 95.0%"}}},
{"mark":{"type":"line","strokeWidth":3.125,"strokeDash":[11.6,5]},"encoding":{"y":{"field":"e","type":"quantitative"},"color":{"datum":"estimate"}}},
{"mark":{"type":"area","color":"#1f77b4","opacity":0.2},"encoding":{"y":{"field":"lo","type":"quantitative"},"y2":{"field":"hi"}}},
{"transform":[{"filter":"datum.t==0"}],"mark":{"type":"text","align":"left","baseline":"alphabetic","fontWeight":"bold","fontSize":20.8},"encoding":{"x":{"datum":0.25},"y":{"datum":0.05},"text":{"field":"lab"}}}]}},
{"transform":[{"filter":"datum.i==7&&datum.j==1"}],"width":245,"height":244,"encoding":{"x":{"field":"t","type":"quantitative","scale":{"domain":[-2.5,52.5],"nice":false},"axis":{"labels":false,"title":null}}},"layer":[
{"mark":{"type":"line","strokeWidth":3.125},"encoding":{"y":{"field":"p","type":"quantitative","scale":{"domain":[0,1]},"axis":{"format":".1f","title":"probability"}},"color":{"datum":"predict\u00a0\u00a0\u00a0\u00a0\u00a0conf. 95.0%"}}},
{"mark":{"type":"line","strokeWidth":3.125,"strokeDash":[11.6,5]},"encoding":{"y":{"field":"e","type":"quantitative"},"color":{"datum":"estimate"}}},
{"mark":{"type":"area","color":"#1f77b4","opacity":0.2},"encoding":{"y":{"field":"lo","type":"quantitative"},"y2":{"field":"hi"}}},
{"transform":[{"filter":"datum.t==0"}],"mark":{"type":"text","align":"left","baseline":"alphabetic","fontWeight":"bold","fontSize":20.8},"encoding":{"x":{"datum":0.25},"y":{"datum":0.05},"text":{"field":"lab"}}}]},
{"transform":[{"filter":"datum.i==7&&datum.j>1"}],"facet":{"column":{"field":"j","type":"ordinal","title":null,"header":{"labels":false}}},"spacing":50.5,"bounds":"flush","resolve":{"axis":{"y":"independent"}},"spec":{"width":245,"height":244,"encoding":{"x":{"field":"t","type":"quantitative","scale":{"domain":[-2.5,52.5],"nice":false},"axis":{"labels":false,"title":null}}},"layer":[
{"mark":{"type":"line","strokeWidth":3.125},"encoding":{"y":{"field":"p","type":"quantitative","scale":{"domain":[0,1]},"axis":{"labels":false,"title":null}},"color":{"datum":"predict\u00a0\u00a0\u00a0\u00a0\u00a0conf. 95.0%"}}},
{"mark":{"type":"line","strokeWidth":3.125,"strokeDash":[11.6,5]},"encoding":{"y":{"field":"e","type":"quantitative"},"color":{"datum":"estimate"}}},
{"mark":{"type":"area","color":"#1f77b4","opacity":0.2},"encoding":{"y":{"field":"lo","type":"quantitative"},"y2":{"field":"hi"}}},
{"transform":[{"filter":"datum.t==0"}],"mark":{"type":"text","align":"left","baseline":"alphabetic","fontWeight":"bold","fontSize":20.8},"encoding":{"x":{"datum":0.25},"y":{"datum":0.05},"text":{"field":"lab"}}}]}},
{"transform":[{"filter":"datum.i==8&&datum.j==1"}],"width":245,"height":244,"encoding":{"x":{"field":"t","type":"quantitative","scale":{"domain":[-2.5,52.5],"nice":false},"axis":{"labels":false,"title":null}}},"layer":[
{"mark":{"type":"line","strokeWidth":3.125},"encoding":{"y":{"field":"p","type":"quantitative","scale":{"domain":[0,1]},"axis":{"format":".1f","title":"probability"}},"color":{"datum":"predict\u00a0\u00a0\u00a0\u00a0\u00a0conf. 95.0%"}}},
{"mark":{"type":"line","strokeWidth":3.125,"strokeDash":[11.6,5]},"encoding":{"y":{"field":"e","type":"quantitative"},"color":{"datum":"estimate"}}},
{"mark":{"type":"area","color":"#1f77b4","opacity":0.2},"encoding":{"y":{"field":"lo","type":"quantitative"},"y2":{"field":"hi"}}},
{"transform":[{"filter":"datum.t==0"}],"mark":{"type":"text","align":"left","baseline":"alphabetic","fontWeight":"bold","fontSize":20.8},"encoding":{"x":{"datum":0.25},"y":{"datum":0.05},"text":{"field":"lab"}}}]},
{"transform":[{"filter":"datum.i==8&&datum.j>1"}],"facet":{"column":{"field":"j","type":"ordinal","title":null,"header":{"labels":false}}},"spacing":50.5,"bounds":"flush","resolve":{"axis":{"y":"independent"}},"spec":{"width":245,"height":244,"encoding":{"x":{"field":"t","type":"quantitative","scale":{"domain":[-2.5,52.5],"nice":false},"axis":{"labels":false,"title":null}}},"layer":[
{"mark":{"type":"line","strokeWidth":3.125},"encoding":{"y":{"field":"p","type":"quantitative","scale":{"domain":[0,1]},"axis":{"labels":false,"title":null}},"color":{"datum":"predict\u00a0\u00a0\u00a0\u00a0\u00a0conf. 95.0%"}}},
{"mark":{"type":"line","strokeWidth":3.125,"strokeDash":[11.6,5]},"encoding":{"y":{"field":"e","type":"quantitative"},"color":{"datum":"estimate"}}},
{"mark":{"type":"area","color":"#1f77b4","opacity":0.2},"encoding":{"y":{"field":"lo","type":"quantitative"},"y2":{"field":"hi"}}},
{"transform":[{"filter":"datum.t==0"}],"mark":{"type":"text","align":"left","baseline":"alphabetic","fontWeight":"bold","fontSize":20.8},"encoding":{"x":{"datum":0.25},"y":{"datum":0.05},"text":{"field":"lab"}}}]}},
{"transform":[{"filter":"datum.i==9&&datum.j==1"}],"width":245,"height":244,"encoding":{"x":{"field":"t","type":"quantitative","scale":{"domain":[-2.5,52.5],"nice":false},"axis":{"labels":false,"title":null}}},"layer":[
{"mark":{"type":"line","strokeWidth":3.125},"encoding":{"y":{"field":"p","type":"quantitative","scale":{"domain":[0,1]},"axis":{"format":".1f","title":"probability"}},"color":{"datum":"predict\u00a0\u00a0\u00a0\u00a0\u00a0conf. 95.0%"}}},
{"mark":{"type":"line","strokeWidth":3.125,"strokeDash":[11.6,5]},"encoding":{"y":{"field":"e","type":"quantitative"},"color":{"datum":"estimate"}}},
{"mark":{"type":"area","color":"#1f77b4","opacity":0.2},"encoding":{"y":{"field":"lo","type":"quantitative"},"y2":{"field":"hi"}}},
{"transform":[{"filter":"datum.t==0"}],"mark":{"type":"text","align":"left","baseline":"alphabetic","fontWeight":"bold","fontSize":20.8},"encoding":{"x":{"datum":0.25},"y":{"datum":0.05},"text":{"field":"lab"}}}]},
{"transform":[{"filter":"datum.i==9&&datum.j>1"}],"facet":{"column":{"field":"j","type":"ordinal","title":null,"header":{"labels":false}}},"spacing":50.5,"bounds":"flush","resolve":{"axis":{"y":"independent"}},"spec":{"width":245,"height":244,"encoding":{"x":{"field":"t","type":"quantitative","scale":{"domain":[-2.5,52.5],"nice":false},"axis":{"labels":false,"title":null}}},"layer":[
{"mark":{"type":"line","strokeWidth":3.125},"encoding":{"y":{"field":"p","type":"quantitative","scale":{"domain":[0,1]},"axis":{"labels":false,"title":null}},"color":{"datum":"predict\u00a0\u00a0\u00a0\u00a0\u00a0conf. 95.0%"}}},
{"mark":{"type":"line","strokeWidth":3.125,"strokeDash":[11.6,5]},"encoding":{"y":{"field":"e","type":"quantitative"},"color":{"datum":"estimate"}}},
{"mark":{"type":"area","color":"#1f77b4","opacity":0.2},"encoding":{"y":{"field":"lo","type":"quantitative"},"y2":{"field":"hi"}}},
{"transform":[{"filter":"datum.t==0"}],"mark":{"type":"text","align":"left","baseline":"alphabetic","fontWeight":"bold","fontSize":20.8},"encoding":{"x":{"datum":0.25},"y":{"datum":0.05},"text":{"field":"lab"}}}]}},
{"transform":[{"filter":"datum.i==10&&datum.j==1"}],"width":245,"height":244,"encoding":{"x":{"field":"t","type":"quantitative","scale":{"domain":[-2.5,52.5],"nice":false},"axis":{"title":"lagtime (steps)"}}},"layer":[
{"mark":{"type":"line","strokeWidth":3.125},"encoding":{"y":{"field":"p","type":"quantitative","scale":{"domain":[0,1]},"axis":{"format":".1f","title":"probability"}},"color":{"datum":"predict\u00a0\u00a0\u00a0\u00a0\u00a0conf. 95.0%"}}},
{"mark":{"type":"line","strokeWidth":3.125,"strokeDash":[11.6,5]},"encoding":{"y":{"field":"e","type":"quantitative"},"color":{"datum":"estimate"}}},
{"mark":{"type":"area","color":"#1f77b4","opacity":0.2},"encoding":{"y":{"field":"lo","type":"quantitative"},"y2":{"field":"hi"}}},
{"transform":[{"filter":"datum.t==0"}],"mark":{"type":"text","align":"left","baseline":"alphabetic","fontWeight":"bold","fontSize":20.8},"encoding":{"x":{"datum":0.25},"y":{"datum":0.05},"text":{"field":"lab"}}}]},
{"transform":[{"filter":"datum.i==10&&datum.j>1"}],"facet":{"column":{"field":"j","type":"ordinal","title":null,"header":{"labels":false}}},"spacing":50.5,"bounds":"flush","resolve":{"axis":{"y":"independent"}},"spec":{"width":245,"height":244,"encoding":{"x":{"field":"t","type":"quantitative","scale":{"domain":[-2.5,52.5],"nice":false},"axis":{"title":"lagtime (steps)"}}},"layer":[
{"mark":{"type":"line","strokeWidth":3.125},"encoding":{"y":{"field":"p","type":"quantitative","scale":{"domain":[0,1]},"axis":{"labels":false,"title":null}},"color":{"datum":"predict\u00a0\u00a0\u00a0\u00a0\u00a0conf. 95.0%"}}},
{"mark":{"type":"line","strokeWidth":3.125,"strokeDash":[11.6,5]},"encoding":{"y":{"field":"e","type":"quantitative"},"color":{"datum":"estimate"}}},
{"mark":{"type":"area","color":"#1f77b4","opacity":0.2},"encoding":{"y":{"field":"lo","type":"quantitative"},"y2":{"field":"hi"}}},
{"transform":[{"filter":"datum.t==0"}],"mark":{"type":"text","align":"left","baseline":"alphabetic","fontWeight":"bold","fontSize":20.8},"encoding":{"x":{"datum":0.25},"y":{"datum":0.05},"text":{"field":"lab"}}}]}}
],
"config":{
"font":"DejaVu Sans",
"view":{"stroke":"black","strokeWidth":1.67},
"axis":{"domain":false,"grid":false,"ticks":true,"tickColor":"black","tickSize":7.3,"tickWidth":1.67,"labelFont":"DejaVu Sans","labelFontSize":20.8,"labelColor":"black","labelPadding":7.3,"labelFlush":false,"labelOverlap":false,"titleFont":"DejaVu Sans","titleFontSize":20.8,"titleFontWeight":"normal","titleColor":"black","titlePadding":8.3},
"axisX":{"tickCount":3},
"axisY":{"tickCount":5},
"text":{"color":"black"}
}
}
